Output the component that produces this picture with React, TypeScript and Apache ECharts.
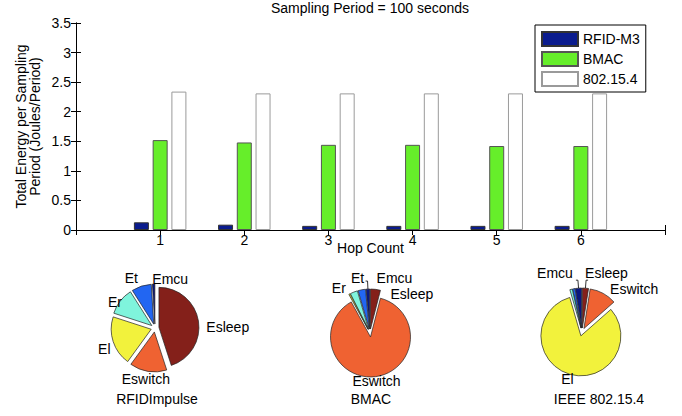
import React, { useEffect, useRef } from 'react';
import * as echarts from 'echarts';

// ---- data ----
const hops = [1, 2, 3, 4, 5, 6];
const seriesNames = ['RFID-M3', 'BMAC', '802.15.4'];
const rfidM3 = [0.13, 0.09, 0.07, 0.07, 0.07, 0.07];
const bmac = [1.52, 1.48, 1.44, 1.44, 1.42, 1.42];
const ieee = [2.34, 2.31, 2.31, 2.31, 2.31, 2.31];

const parts = ['Emcu', 'Et', 'Er', 'El', 'Eswitch', 'Esleep'];
const pieRfid = [1, 8, 11, 20, 15, 45];
const pieBmac = [1.5, 3, 3, 0.5, 88, 4];
const pieIeee = [2.5, 1, 1, 82, 11, 2.5];
const pieTitles = ['RFIDImpulse', 'BMAC', 'IEEE 802.15.4'];
const hiddenLabels = [[], ['El'], ['Et', 'Er']];
const lineLabels = [[], ['Emcu'], ['Emcu', 'Esleep']];

// ---- style ----
const FONT = 'Liberation Sans, Arial, Helvetica, sans-serif';
const FS = 14;
const partColors = ['#0a1780', '#2266f2', '#7ff4dc', '#f2f23c', '#ef6232', '#84201a'];
const barColors = ['#0b1c8e', '#66ee2a', '#ffffff'];
const barBorders = ['#333333', '#555555', '#9a9a9a'];
// label fine-tuning per pie (align / shift), keyed by part name
const labelTweaks: Record<string, { align?: string; dx?: number; dy?: number }>[] = [
  {
    Emcu: { align: 'left', dx: 4, dy: 3 }, Et: { dx: 4, dy: -1 }, Er: { dx: 13, dy: 6 },
    El: { dx: 10, dy: 5 }, Eswitch: { align: 'center', dx: 4 }, Esleep: { dx: -5, dy: 7 },
  },
  {
    Emcu: { align: 'left', dx: 14, dy: -3 }, Et: { dx: 9, dy: -4 }, Er: { dy: 3 },
    Esleep: { dx: 9, dy: 13 }, Eswitch: { align: 'center', dx: -5, dy: -4 },
  },
  {
    Emcu: { dy: -7 }, Esleep: { align: 'left', dx: -6, dy: -7 },
    Eswitch: { dx: -2, dy: 3 }, El: { align: 'center', dx: 5, dy: -3 },
  },
];

export default function App() {
  const ref = useRef<HTMLDivElement>(null);
  useEffect(() => {
    if (!ref.current) return;
    const chart = echarts.init(ref.current, undefined, { renderer: 'svg' });
    const barData = [rfidM3, bmac, ieee];
    const pies = [pieRfid, pieBmac, pieIeee];
    const pieCenters = [[155, 328], [370, 333], [582, 332]];
    const titleXs = [157, 371, 599];

    const common = { min: 0, max: 7, interval: 1 };
    const txt = { fontSize: FS, color: '#000', fontFamily: FONT };
    const option: any = {
      animation: false,
      backgroundColor: '#ffffff',
      textStyle: { fontFamily: FONT },
      title: [
        {
          text: 'Sampling Period = 100 seconds',
          left: 370, top: 1, padding: 0, textAlign: 'center',
          textStyle: { ...txt, fontWeight: 'normal' },
        },
        ...pieTitles.map((t, i) => ({
          text: t, left: titleXs[i], top: 392, padding: 0, textAlign: 'center',
          textStyle: { ...txt, fontWeight: 'normal' },
        })),
      ],
      legend: {
        orient: 'vertical', left: 535, top: 25,
        data: seriesNames,
        itemWidth: 36, itemHeight: 14, itemGap: 4, itemTextGap: 5,
        padding: [6, 6, 5, 6],
        borderColor: '#000', borderWidth: 1, backgroundColor: '#fff',
        icon: 'rect',
        textStyle: { ...txt, lineHeight: 14 },
      },
      grid: { left: 76, right: 17, top: 23, bottom: 186 },
      xAxis: [
        {
          type: 'value', ...common, position: 'bottom',
          name: 'Hop Count', nameLocation: 'middle', nameGap: 11, nameMoveOverlap: false,
          nameTextStyle: txt,
          axisLine: { show: true, lineStyle: { color: '#000', width: 1 } },
          axisTick: { show: true, inside: true, length: 5, lineStyle: { color: '#000' } },
          axisLabel: {
            ...txt, margin: 3,
            formatter: (v: number) => (hops.includes(v) ? String(v) : ''),
          },
          splitLine: { show: false },
        },
        {
          type: 'value', ...common, position: 'top',
          axisLine: { show: true, lineStyle: { color: '#000', width: 1 } },
          axisTick: { show: true, inside: true, length: 5, lineStyle: { color: '#000' } },
          axisLabel: { show: false },
          splitLine: { show: false },
        },
      ],
      yAxis: [
        {
          type: 'value', min: 0, max: 3.5, interval: 0.5, position: 'left',
          name: 'Total Energy per Sampling\nPeriod (Joules/Period)',
          nameLocation: 'middle', nameGap: 34, nameRotate: 90, nameMoveOverlap: false,
          nameTextStyle: { ...txt, lineHeight: 14 },
          axisLine: { show: true, lineStyle: { color: '#000', width: 1 } },
          axisTick: { show: true, inside: true, length: 5, lineStyle: { color: '#000' } },
          axisLabel: { ...txt, margin: 5 },
          splitLine: { show: false },
        },
        {
          type: 'value', min: 0, max: 3.5, interval: 0.5, position: 'right',
          axisLine: { show: true, lineStyle: { color: '#000', width: 1 } },
          axisTick: { show: true, inside: true, length: 5, lineStyle: { color: '#000' } },
          axisLabel: { show: false },
          splitLine: { show: false },
        },
      ],
      series: [
        ...seriesNames.map((n, si) => ({
          type: 'bar', name: n, xAxisIndex: 0, yAxisIndex: 0,
          data: hops.map((h, i) => [h, barData[si][i]]),
          barWidth: 15, barGap: '25%',
          itemStyle: { color: barColors[si], borderColor: barBorders[si], borderWidth: 1 },
          emphasis: { disabled: true },
        })),
        ...pies.map((vals, pi) => ({
          type: 'pie',
          center: pieCenters[pi], radius: 40,
          startAngle: 90, clockwise: false,
          selectedMode: 'multiple', selectedOffset: 4,
          avoidLabelOverlap: false,
          emphasis: { disabled: true },
          itemStyle: { borderColor: '#222', borderWidth: 0.7 },
          select: { itemStyle: { borderColor: '#222', borderWidth: 0.7 }, label: { color: '#000' } },
          label: { show: true, position: 'outside', distanceToLabelLine: 3, ...txt },
          labelLine: { show: false, length: 3, length2: 0, lineStyle: { color: '#000', width: 0.8 } },
          labelLayout: (params: any) => {
            const name = parts[params.dataIndex];
            const t = labelTweaks[pi][name] || {};
            const out: any = { hideOverlap: false, moveOverlap: false };
            if (t.align) out.align = t.align;
            if (t.dx) out.dx = t.dx;
            if (t.dy) out.dy = t.dy;
            return out;
          },
          data: parts.map((p, i) => ({
            name: p, value: vals[i], selected: true,
            itemStyle: { color: partColors[i] },
            label: { show: !hiddenLabels[pi].includes(p) },
            labelLine: { show: lineLabels[pi].includes(p), length: 8, length2: 2 },
          })),
        })),
      ],
    };
    chart.setOption(option);
    return () => chart.dispose();
  }, []);
  return (
    <div
      ref={ref}
      style={{ position: 'fixed', left: 0, top: 0, width: 682, height: 416, background: '#fff' }}
    />
  );
}
